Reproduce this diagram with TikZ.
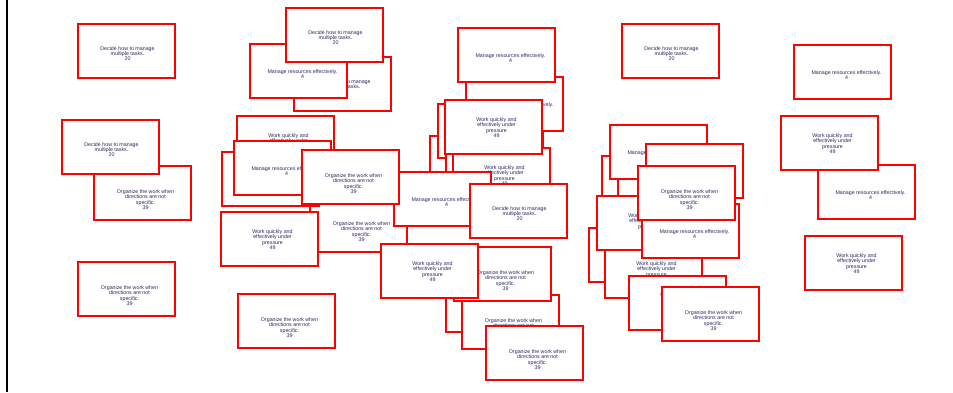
\documentclass[tikz,border=0pt]{standalone}
\usepackage{fontspec}
\setmainfont{Liberation Sans}
\definecolor{txtc}{RGB}{40,40,100}
\tikzset{
 cbx/.style={draw=red, line width=1.1pt, fill=white, minimum width=97pt, minimum height=54pt, inner sep=0pt, outer sep=0pt, anchor=north west},
 ctx/.style={text=txtc, font=\fontsize{5.3}{5.2}\selectfont, align=center, inner sep=0pt, anchor=north}
}
\newcommand\bBlank[3]{\node[cbx] (#1) at (#2,#3) {};}
\newcommand\bDecide[3]{\node[cbx] (#1) at (#2,#3) {};\node[ctx] (#1t) at ([xshift=1pt,yshift=4.8pt]#1.center) {Decide how to manage\\multiple tasks.\\20};}
\newcommand\bManage[3]{\node[cbx] (#1) at (#2,#3) {};\node[ctx] (#1t) at ([xshift=4pt,yshift=1.6pt]#1.center) {Manage resources effectively.\\4};}
\newcommand\bOrganize[3]{\node[cbx] (#1) at (#2,#3) {};\node[ctx] (#1t) at ([xshift=3pt,yshift=3.3pt]#1.center) {Organize the work when\\directions are not\\specific.\\39};}
\newcommand\bWork[3]{\node[cbx] (#1) at (#2,#3) {};\node[ctx] (#1t) at ([xshift=3pt,yshift=9.3pt]#1.center) {Work quickly and\\effectively under\\pressure\\49};}
\begin{document}
\begin{tikzpicture}[x=1pt,y=-1pt]
\useasboundingbox (0,0) rectangle (953,392);
\draw[line width=2pt] (7,0) -- (7,392);
% column 1
\bDecide{A1}{78}{24}
\bOrganize{A3}{94}{166}
\bDecide{A2}{62}{120}
\bOrganize{A4}{78}{262}
% column 2 top
\bDecide{B3}{294}{57}
\bManage{B2}{250}{44}
\bDecide{B1}{286}{8}
% column 2/3 middle
\bOrganize{B8}{310}{198}
\bWork{B4}{237}{116}
\bBlank{B6}{222}{152}
\bManage{B5}{234}{141}
\bWork{B7}{221}{212}
\bBlank{C5}{430}{136}
\bBlank{C4}{438}{104}
\bBlank{C7}{446}{118}
\bWork{C6}{453}{148}
\bManage{C2}{466}{77}
\bWork{C3}{445}{100}
\bManage{C1}{458}{28}
\bManage{B10}{394}{172}
\bOrganize{B9}{302}{150}
\bDecide{D1}{470}{184}
\bOrganize{B12}{238}{294}
\bBlank{E0}{446}{278}
\bOrganize{E2}{462}{295}
\bOrganize{E1}{454}{247}
\bWork{B11}{381}{244}
\bOrganize{E3}{486}{326}
% column 4
\bDecide{F1}{622}{24}
\bBlank{G1}{602}{156}
\bBlank{G2}{618}{150}
\bManage{F2}{610}{125}
\bBlank{F3}{646}{144}
\bBlank{F6}{589}{228}
\bWork{F7}{605}{244}
\bWork{F5}{597}{196}
\bManage{F8}{642}{204}
\bOrganize{F4}{638}{166}
\bWork{F9}{629}{276}
\bOrganize{F10}{662}{287}
% column 5
\bManage{H1}{794}{45}
\bManage{H3}{818}{165}
\bWork{H2}{781}{116}
\bWork{H4}{805}{236}
\end{tikzpicture}
\end{document}
